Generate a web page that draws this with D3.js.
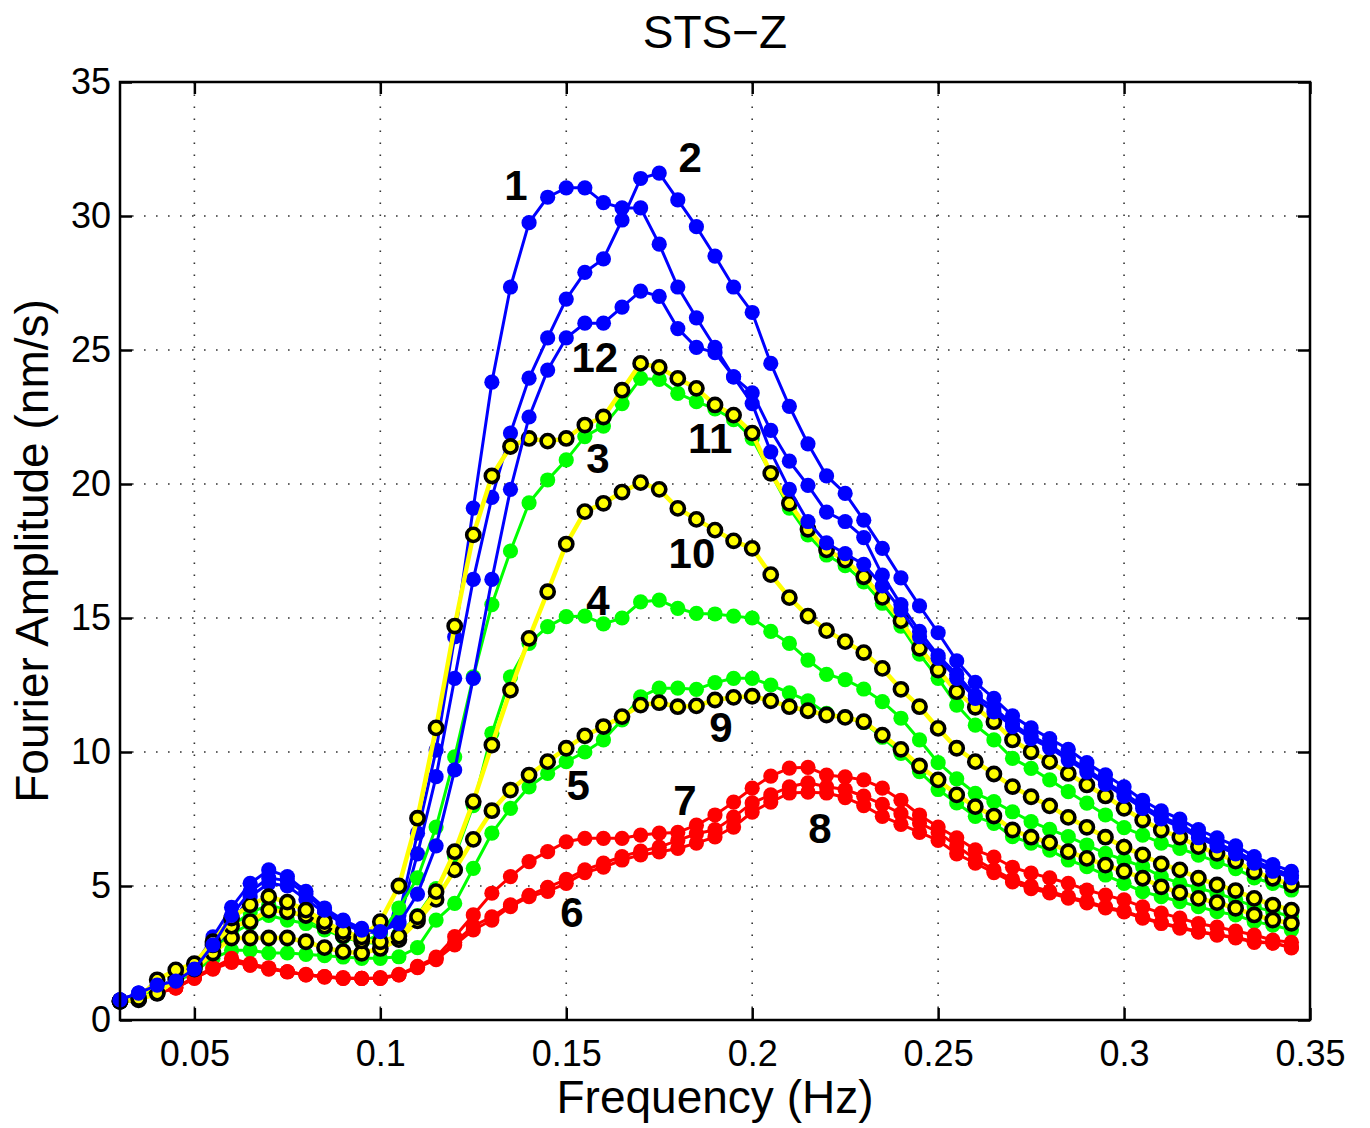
<!DOCTYPE html>
<html>
<head>
<meta charset="utf-8">
<script src="https://cdnjs.cloudflare.com/ajax/libs/d3/7.8.5/d3.min.js"></script>
<style>
  body { margin: 0; background: #fff; }
  svg { font-family: "Liberation Sans", Arial, Helvetica, sans-serif; }
</style>
</head>
<body>
<svg id="chart" width="1370" height="1128"></svg>
<script>
// frequency grid (Hz)
const freq = [0.030, 0.035, 0.040, 0.045, 0.050, 0.055, 0.060, 0.065, 0.070, 0.075,
  0.080, 0.085, 0.090, 0.095, 0.100, 0.105, 0.110, 0.115, 0.120, 0.125,
  0.130, 0.135, 0.140, 0.145, 0.150, 0.155, 0.160, 0.165, 0.170, 0.175,
  0.180, 0.185, 0.190, 0.195, 0.200, 0.205, 0.210, 0.215, 0.220, 0.225,
  0.230, 0.235, 0.240, 0.245, 0.250, 0.255, 0.260, 0.265, 0.270, 0.275,
  0.280, 0.285, 0.290, 0.295, 0.300, 0.305, 0.310, 0.315, 0.320, 0.325,
  0.330, 0.335, 0.340, 0.345];

// Fourier amplitude (nm/s), one array per station/record
const amp1 = [0.75, 1.0, 1.3, 1.45, 1.8, 2.5, 3.6, 4.6, 5.1, 5.0, 4.5, 4.0, 3.6, 3.3, 3.25, 3.9,
  6.97, 10.07, 14.3, 19.1, 23.8, 27.35, 29.75, 30.7, 31.05, 31.05, 30.5, 30.3, 30.3, 28.95, 27.35, 26.2,
  25.1, 24.0, 23.4, 22.0, 20.85, 19.95, 18.95, 18.6, 18.0, 16.6, 15.5, 14.5, 13.6, 12.9, 12.1, 11.65,
  11.05, 10.6, 10.25, 9.8, 9.35, 8.9, 8.45, 8.0, 7.6, 7.3, 6.9, 6.6, 6.3, 5.95, 5.65, 5.4];
const amp2 = [0.75, 1.0, 1.3, 1.45, 2.0, 3.1, 4.2, 5.1, 5.6, 5.35, 4.8, 4.18, 3.73, 3.42, 3.3, 3.67,
  6.2, 9.08, 12.75, 16.44, 19.5, 21.9, 23.95, 25.45, 26.9, 27.9, 28.4, 29.85, 31.4, 31.6, 30.6, 29.6,
  28.5, 27.35, 26.4, 24.5, 22.9, 21.5, 20.3, 19.65, 18.65, 17.6, 16.5, 15.45, 14.45, 13.4, 12.6, 12.0,
  11.35, 10.9, 10.5, 10.1, 9.6, 9.15, 8.7, 8.2, 7.8, 7.5, 7.1, 6.8, 6.5, 6.1, 5.8, 5.55];
const amp3 = [0.7, 0.9, 1.2, 1.5, 1.9, 2.7, 3.5, 4.0, 4.3, 4.1, 3.8, 3.4, 3.1, 2.9, 3.2, 4.18,
  5.3, 7.2, 9.82, 12.8, 15.5, 17.5, 19.3, 20.15, 20.9, 21.77, 22.16, 23.0, 23.94, 23.9, 23.38, 23.07,
  22.8, 22.4, 21.7, 20.4, 19.1, 18.1, 17.35, 16.95, 16.35, 15.55, 14.7, 13.65, 12.75, 11.75, 11.0, 10.45,
  9.76, 9.39, 8.96, 8.52, 8.09, 7.65, 7.18, 6.9, 6.6, 6.4, 6.15, 5.9, 5.65, 5.3, 5.1, 4.85];
const amp4 = [0.7, 0.9, 1.2, 1.5, 1.9, 2.6, 3.2, 3.6, 3.9, 3.73, 3.6, 3.36, 3.1, 2.9, 2.85, 3.2,
  3.9, 4.9, 6.1, 8.0, 10.7, 12.8, 14.05, 14.68, 15.05, 15.07, 14.78, 15.0, 15.6, 15.67, 15.36, 15.17,
  15.15, 15.07, 15.0, 14.5, 14.05, 13.43, 12.9, 12.7, 12.35, 11.88, 11.26, 10.45, 9.6, 9.0, 8.46, 8.15,
  7.77, 7.4, 7.11, 6.84, 6.53, 6.22, 5.97, 5.72, 5.35, 5.1, 4.92, 4.73, 4.5, 4.23, 4.04, 3.86];
const amp5 = [0.7, 0.85, 1.1, 1.4, 1.8, 2.3, 2.6, 2.6, 2.5, 2.5, 2.45, 2.4, 2.35, 2.3, 2.3, 2.36,
  2.7, 3.73, 4.35, 5.66, 6.97, 7.9, 8.7, 9.2, 9.64, 10.0, 10.45, 11.2, 12.06, 12.38, 12.38, 12.34,
  12.59, 12.75, 12.75, 12.5, 12.21, 11.91, 11.44, 11.3, 11.1, 10.55, 9.95, 9.27, 8.6, 8.1, 7.6, 7.34,
  6.84, 6.6, 6.34, 5.97, 5.72, 5.41, 5.1, 4.79, 4.6, 4.42, 4.23, 4.04, 3.92, 3.67, 3.54, 3.36];
const amp6 = [0.7, 0.8, 1.0, 1.2, 1.55, 1.9, 2.15, 2.05, 1.9, 1.8, 1.68, 1.62, 1.55, 1.55, 1.55, 1.68,
  1.95, 2.25, 2.8, 3.36, 3.73, 4.23, 4.6, 4.8, 5.1, 5.5, 5.7, 5.97, 6.16, 6.27, 6.4, 6.6,
  6.83, 7.2, 7.76, 8.13, 8.47, 8.5, 8.47, 8.3, 8.0, 7.6, 7.3, 7.0, 6.7, 6.2, 5.85, 5.5,
  5.15, 4.9, 4.74, 4.55, 4.37, 4.18, 4.03, 3.8, 3.6, 3.43, 3.28, 3.17, 3.06, 2.9, 2.87, 2.69];
const amp7 = [0.7, 0.8, 1.0, 1.2, 1.6, 1.95, 2.3, 2.1, 1.95, 1.8, 1.7, 1.62, 1.58, 1.55, 1.58, 1.7,
  2.0, 2.35, 3.11, 3.92, 4.73, 5.35, 5.91, 6.28, 6.65, 6.78, 6.78, 6.78, 6.9, 6.97, 7.0, 7.27,
  7.65, 8.13, 8.65, 9.1, 9.4, 9.43, 9.14, 9.07, 8.96, 8.65, 8.2, 7.65, 7.2, 6.8, 6.35, 6.08,
  5.7, 5.48, 5.3, 5.1, 4.85, 4.66, 4.48, 4.22, 3.99, 3.8, 3.6, 3.47, 3.32, 3.17, 2.98, 2.9];
const amp8 = [0.7, 0.8, 1.0, 1.2, 1.57, 1.92, 2.2, 2.05, 1.92, 1.8, 1.68, 1.6, 1.55, 1.55, 1.55, 1.68,
  1.97, 2.3, 2.9, 3.5, 3.85, 4.3, 4.65, 4.95, 5.25, 5.6, 5.85, 6.1, 6.3, 6.45, 6.7, 6.95,
  7.1, 7.57, 8.1, 8.4, 8.7, 8.85, 8.7, 8.6, 8.35, 8.05, 7.7, 7.35, 7.0, 6.5, 6.0, 5.6,
  5.25, 5.0, 4.8, 4.6, 4.42, 4.22, 4.07, 3.83, 3.63, 3.46, 3.3, 3.19, 3.08, 2.93, 2.88, 2.72];
const amp9 = [0.7, 0.75, 1.0, 1.5, 1.9, 2.5, 3.06, 3.06, 3.06, 3.06, 2.92, 2.7, 2.55, 2.49, 2.67, 3.0,
  3.7, 4.5, 5.6, 6.74, 7.81, 8.58, 9.14, 9.64, 10.14, 10.6, 10.95, 11.32, 11.75, 11.84, 11.69, 11.72,
  11.94, 12.04, 12.08, 11.91, 11.69, 11.54, 11.38, 11.29, 11.13, 10.63, 10.1, 9.48, 8.96, 8.4, 7.96, 7.61,
  7.09, 6.82, 6.62, 6.28, 6.03, 5.78, 5.55, 5.29, 4.97, 4.75, 4.54, 4.38, 4.17, 3.92, 3.73, 3.61];
const amp10 = [0.7, 0.8, 1.0, 1.6, 2.0, 2.8, 3.5, 3.67, 4.1, 4.04, 3.9, 3.5, 3.15, 2.95, 2.92, 3.13,
  3.85, 4.79, 6.28, 8.15, 10.26, 12.31, 14.24, 15.98, 17.76, 18.97, 19.28, 19.7, 20.05, 19.8, 19.09, 18.68,
  18.28, 17.88, 17.6, 16.62, 15.76, 15.07, 14.53, 14.12, 13.71, 13.12, 12.34, 11.69, 10.88, 10.14, 9.64, 9.18,
  8.71, 8.33, 7.99, 7.56, 7.19, 6.82, 6.45, 6.16, 5.82, 5.6, 5.29, 5.04, 4.83, 4.54, 4.29, 4.1];
const amp11 = [0.7, 0.8, 1.5, 1.87, 2.1, 2.92, 3.8, 4.3, 4.6, 4.4, 4.1, 3.67, 3.3, 3.1, 3.67, 5.0,
  7.53, 10.9, 14.7, 18.1, 20.3, 21.4, 21.7, 21.6, 21.7, 22.2, 22.5, 23.5, 24.5, 24.35, 23.94, 23.57,
  22.95, 22.57, 21.9, 20.4, 19.28, 18.31, 17.54, 17.16, 16.54, 15.77, 14.9, 13.87, 13.06, 12.25, 11.67, 11.13,
  10.45, 10.01, 9.64, 9.2, 8.77, 8.36, 7.9, 7.46, 7.09, 6.82, 6.47, 6.22, 5.93, 5.53, 5.29, 5.04];
const amp12 = [0.75, 1.0, 1.3, 1.45, 1.9, 2.8, 3.9, 4.8, 5.3, 5.2, 4.7, 4.1, 3.7, 3.35, 3.3, 3.6,
  4.7, 6.5, 9.33, 12.75, 16.44, 19.8, 22.5, 24.25, 25.45, 26.0, 26.0, 26.6, 27.2, 27.0, 25.8, 25.1,
  24.9, 24.0, 23.0, 21.2, 19.8, 18.6, 17.8, 17.4, 17.0, 16.2, 15.3, 14.3, 13.5, 12.75, 12.0, 11.5,
  10.95, 10.5, 10.15, 9.7, 9.25, 8.8, 8.35, 7.9, 7.5, 7.2, 6.8, 6.5, 6.2, 5.85, 5.55, 5.3];

// curve number annotations (text, frequency, amplitude)
const labelText = ["1", "2", "12", "11", "3", "10", "4", "9", "5", "7", "8", "6"];
const labelFreq = [0.1365, 0.1833, 0.1577, 0.1887, 0.1585, 0.1838, 0.1585, 0.1916, 0.1532, 0.1819, 0.2182, 0.1515];
const labelAmp = [31.16, 32.2, 24.74, 21.72, 20.97, 17.43, 15.67, 10.93, 8.77, 8.21, 7.16, 4.03];

const xTicks = [0.05, 0.1, 0.15, 0.2, 0.25, 0.3, 0.35];
const yTicks = [0, 5, 10, 15, 20, 25, 30, 35];

// series styles, in plotting order
const series = [
  { values: amp1, kind: "dot", color: "#0000ff" },
  { values: amp2, kind: "dot", color: "#0000ff" },
  { values: amp3, kind: "dot", color: "#00ff00" },
  { values: amp4, kind: "dot", color: "#00ff00" },
  { values: amp5, kind: "dot", color: "#00ff00" },
  { values: amp6, kind: "dot", color: "#ff0000" },
  { values: amp7, kind: "dot", color: "#ff0000" },
  { values: amp8, kind: "dot", color: "#ff0000" },
  { values: amp9, kind: "ring", color: "#ffff00" },
  { values: amp10, kind: "ring", color: "#ffff00" },
  { values: amp11, kind: "ring", color: "#ffff00" },
  { values: amp12, kind: "dot", color: "#0000ff" }
];

const L = 120, R = 1310, T = 82, B = 1020;
const svg = d3.select("#chart");

const x = d3.scaleLinear().domain([0.03, 0.35]).range([L, R]);
const y = d3.scaleLinear().domain([0, 35]).range([B, T]);

// dotted grid
const grid = svg.append("g").attr("stroke", "#333").attr("stroke-width", 1.6)
  .attr("stroke-dasharray", "1.6,10.4");
grid.selectAll("line.gx").data(xTicks.filter(d => d < 0.35)).enter().append("line")
  .attr("x1", d => x(d)).attr("x2", d => x(d)).attr("y1", B).attr("y2", T);
grid.selectAll("line.gy").data(yTicks.filter(d => d > 0 && d < 35)).enter().append("line")
  .attr("x1", L).attr("x2", R).attr("y1", d => y(d)).attr("y2", d => y(d));

// curves
const line = d3.line().x((d, i) => x(freq[i])).y(d => y(d));
series.forEach(s => {
  const g = svg.append("g");
  g.append("path").datum(s.values)
    .attr("d", line)
    .attr("fill", "none")
    .attr("stroke", s.color)
    .attr("stroke-width", s.kind === "ring" ? 4.5 : 3)
    .attr("stroke-linejoin", "round");
  g.selectAll("circle").data(s.values).enter().append("circle")
    .attr("cx", (d, i) => x(freq[i]))
    .attr("cy", d => y(d))
    .attr("r", s.kind === "ring" ? 6.6 : 7.6)
    .attr("fill", s.color)
    .attr("stroke", s.kind === "ring" ? "#000" : "none")
    .attr("stroke-width", 3.6);
});

// curve numbers
svg.append("g").selectAll("text").data(labelText).enter().append("text")
  .attr("x", (d, i) => x(labelFreq[i]))
  .attr("y", (d, i) => y(labelAmp[i]))
  .attr("dy", "0.36em")
  .attr("text-anchor", "middle")
  .attr("font-size", 42)
  .attr("font-weight", "bold")
  .text(d => d);

// axes with inward ticks on all four sides
const fmtX = d3.format("");
const axB = svg.append("g").attr("transform", `translate(0,${B})`)
  .call(d3.axisBottom(x).tickValues(xTicks).tickSize(-12).tickPadding(20).tickFormat(d => fmtX(d)));
const axL = svg.append("g").attr("transform", `translate(${L},0)`)
  .call(d3.axisLeft(y).tickValues(yTicks).tickSize(-12).tickPadding(9));
const axT = svg.append("g").attr("transform", `translate(0,${T})`)
  .call(d3.axisTop(x).tickValues(xTicks).tickSize(-12).tickFormat(""));
const axR = svg.append("g").attr("transform", `translate(${R},0)`)
  .call(d3.axisRight(y).tickValues(yTicks).tickSize(-12).tickFormat(""));
[axB, axL, axT, axR].forEach(a => {
  a.select(".domain").remove();
  a.selectAll("line").attr("stroke", "#000").attr("stroke-width", 2.5);
  a.selectAll("text").attr("font-size", 36).attr("fill", "#000")
    .attr("font-family", "'Liberation Sans', Arial, Helvetica, sans-serif");
});

// frame
svg.append("rect").attr("x", L).attr("y", T).attr("width", R - L).attr("height", B - T)
  .attr("fill", "none").attr("stroke", "#000").attr("stroke-width", 2.5);

// titles
svg.append("text").attr("x", (L + R) / 2).attr("y", 48).attr("text-anchor", "middle")
  .attr("font-size", 46).text("STS\u2212Z");
svg.append("text").attr("x", (L + R) / 2).attr("y", 1113).attr("text-anchor", "middle")
  .attr("font-size", 46).text("Frequency (Hz)");
svg.append("text").attr("transform", `translate(48,${(T + B) / 2}) rotate(-90)`)
  .attr("text-anchor", "middle").attr("font-size", 46).text("Fourier Amplitude (nm/s)");
</script>
</body>
</html>
